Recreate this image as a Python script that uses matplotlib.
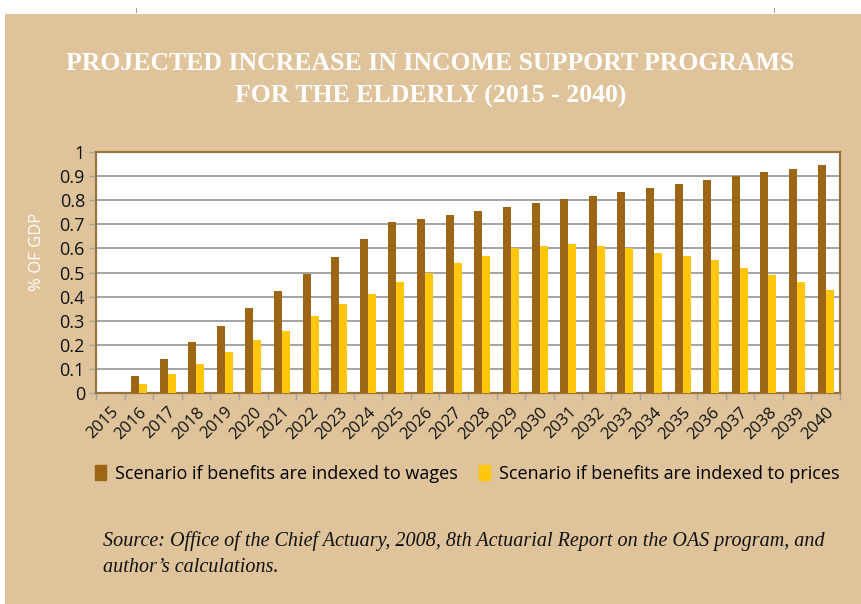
import numpy as np
import matplotlib
matplotlib.use("Agg")
import matplotlib.pyplot as plt
from matplotlib.patches import Rectangle
from matplotlib.lines import Line2D

years = [str(y) for y in range(2015, 2041)]
wages = [0.0, 0.07, 0.14, 0.21, 0.28, 0.352, 0.422, 0.493, 0.565, 0.637, 0.708,
         0.723, 0.738, 0.755, 0.771, 0.788, 0.803, 0.819, 0.835, 0.850, 0.867,
         0.882, 0.899, 0.916, 0.931, 0.947]
prices = [0.0, 0.039, 0.079, 0.119, 0.169, 0.219, 0.259, 0.319, 0.370, 0.41, 0.46,
          0.50, 0.539, 0.569, 0.601, 0.609, 0.619, 0.609, 0.601, 0.579, 0.569,
          0.55, 0.519, 0.489, 0.46, 0.429]
yticks = [0, 0.1, 0.2, 0.3, 0.4, 0.5, 0.6, 0.7, 0.8, 0.9, 1]
ytick_labels = ["0", "0.1", "0.2", "0.3", "0.4", "0.5", "0.6", "0.7", "0.8", "0.9", "1"]
series_names = ["Scenario if benefits are indexed to wages",
                "Scenario if benefits are indexed to prices"]
title = "PROJECTED INCREASE IN INCOME SUPPORT PROGRAMS\nFOR THE ELDERLY (2015 - 2040)"
ylabel = "% OF GDP"
source = ("Source: Office of the Chief Actuary, 2008, 8th Actuarial Report on the OAS program, and\n"
          "author\u2019s calculations.")

BEIGE = "#DFC39A"
BROWN = "#9C6615"
YELLOW = "#FFC60B"
SPINE = "#9A7440"
GRID = "#A3A3A3"

W, H = 861, 604
fig = plt.figure(figsize=(W / 100, H / 100), dpi=100)
fig.patch.set_facecolor("white")
fig.patches.append(Rectangle((5 / W, 0), 1 - 5 / W, 1 - 14 / H, transform=fig.transFigure,
                             facecolor=BEIGE, edgecolor="none", zorder=-10))
# small crop marks in the white strip
for xm in (136, 774):
    fig.add_artist(Line2D([xm / W, xm / W], [1 - 12 / H, 1 - 8 / H], color="#888888", lw=0.6,
                          transform=fig.transFigure))

left, right, top, bottom = 96, 840, 152, 393
ax = fig.add_axes([left / W, 1 - bottom / H, (right - left) / W, (bottom - top) / H])
ax.set_zorder(2)
ax.set_facecolor("white")

x = np.arange(len(years))
bw = 0.28
ax.bar(x - bw / 2, wages, width=bw, color=BROWN, zorder=3, label=series_names[0])
ax.bar(x + bw / 2, prices, width=bw, color=YELLOW, zorder=3, label=series_names[1])

ax.set_xlim(-0.5, len(years) - 0.5)
ax.set_ylim(0, 1)
ax.set_yticks(yticks)
ax.set_yticklabels(ytick_labels, fontsize=13, family="Open Sans", color="#111111")
ax.yaxis.grid(True, color=GRID, lw=1.4, zorder=1)
ax.set_axisbelow(True)
ax.tick_params(axis="y", length=5, width=1, color=GRID, pad=3)

ax.set_xticks(x)
ax.set_xticklabels(years, rotation=45, ha="right", va="top", rotation_mode="anchor",
                   fontsize=12, family="Open Sans", color="#111111")
ax.tick_params(axis="x", which="major", length=0, pad=8)
ax.set_xticks(np.arange(-0.5, len(years)), minor=True)
ax.tick_params(axis="x", which="minor", length=5, width=1, color=GRID)

for s in ax.spines.values():
    s.set_color(SPINE)
    s.set_linewidth(1.6)

fig.text(0.5, 1 - 63 / H, title.split("\n")[0], ha="center", va="center", color="white",
         fontsize=18.5, fontweight="bold", family="Liberation Serif")
fig.text(0.5, 1 - 96 / H, title.split("\n")[1], ha="center", va="center", color="white",
         fontsize=18.5, fontweight="bold", family="Liberation Serif")

fig.text(37 / W, 1 - 252 / H, ylabel, rotation=90, ha="center", va="center", color="white",
         fontsize=12, family="Open Sans")

handles = [Rectangle((0, 0), 1, 1, color=BROWN), Rectangle((0, 0), 1, 1, color=YELLOW)]
fig.legend(handles, series_names, loc="center", bbox_to_anchor=(467 / W, 1 - 474 / H),
           ncol=2, frameon=False, prop={"family": "Open Sans", "size": 13},
           handlelength=0.6, handleheight=0.9, handletextpad=0.5, columnspacing=1.2)

fig.text(103 / W, 1 - 541 / H, source.split("\n")[0], ha="left", va="center",
         fontsize=14.5, style="italic", family="Liberation Serif", color="#111111")
fig.text(103 / W, 1 - 568 / H, source.split("\n")[1], ha="left", va="center",
         fontsize=14.5, style="italic", family="Liberation Serif", color="#111111")

fig.savefig("out.png", dpi=100, facecolor=fig.get_facecolor())
